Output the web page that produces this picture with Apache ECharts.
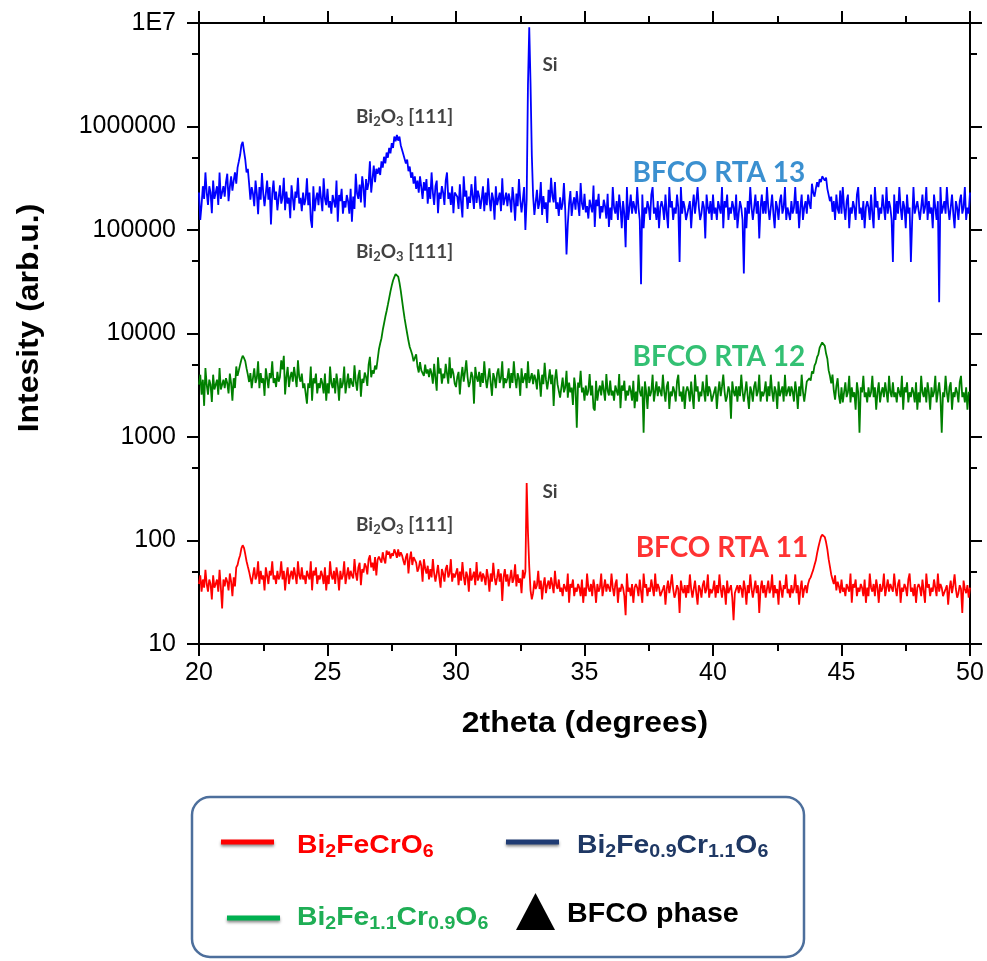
<!DOCTYPE html>
<html>
<head>
<meta charset="utf-8">
<script src="https://cdn.jsdelivr.net/npm/echarts@6/dist/echarts.min.js"></script>
<style>html,body{margin:0;padding:0;background:#fff;}#chart{width:987px;height:961px;}</style>
</head>
<body>
<div id="chart"></div>
<script>
// 2theta sampling: 20.00 .. 50.00 in 0.05 degree steps
const angleStart = 20.0;
const angleStep = 0.05;
const xTicks = [20, 25, 30, 35, 40, 45, 50];
const yTickLabels = ['10', '100', '1000', '10000', '100000', '1000000', '1E7'];

// BFCO RTA 13 (blue), one row per degree
const rta13 = [
2.3e5,1.25e5,1.75e5,2.65e5,2.0e5,3.6e5,2.3e5,1.75e5,2.65e5,2.3e5,1.45e5,3.0e5,2.0e5,2.3e5,2.65e5,1.75e5,3.6e5,2.0e5,2.3e5,2.65e5,
2.1e5,2.9e5,3.5e5,1.9e5,2.6e5,3.3e5,2.4e5,3.0e5,3.6e5,2.8e5,4.0e5,4.6e5,5.3e5,6.6e5,7.1e5,5.8e5,4.8e5,3.6e5,3.9e5,2.8e5,
1.96e5,2.6e5,2.25e5,1.7e5,3.0e5,2.25e5,1.42e5,2.6e5,1.96e5,3.55e5,2.25e5,1.7e5,2.25e5,3.0e5,1.96e5,2.6e5,1.13e5,2.25e5,3.0e5,1.96e5,
2.35e5,1.55e5,2.05e5,2.7e5,1.8e5,2.05e5,3.2e5,1.55e5,2.35e5,1.8e5,2.05e5,1.3e5,2.7e5,2.05e5,1.55e5,2.35e5,2.05e5,3.2e5,1.8e5,2.05e5,
1.52e5,2.3e5,1.74e5,2.0e5,3.16e5,1.74e5,2.3e5,1.26e5,1.05e5,2.64e5,1.52e5,2.0e5,2.3e5,1.74e5,2.64e5,2.0e5,1.52e5,3.16e5,2.0e5,1.74e5,
2.5e5,1.65e5,1.9e5,1.44e5,2.18e5,1.9e5,1.65e5,3.0e5,1.2e5,2.18e5,1.9e5,2.5e5,1.44e5,1.9e5,1.65e5,2.18e5,1.9e5,1.44e5,2.5e5,1.2e5,
2.1e5,1.6e5,3.5e5,2.25e5,2.0e5,2.75e5,1.85e5,3.3e5,2.6e5,1.65e5,3.1e5,2.45e5,2.85e5,4.6e5,2.3e5,3.1e5,4.2e5,2.9e5,3.9e5,3.5e5,
4.0e5,3.4e5,4.6e5,4.0e5,5.1e5,4.4e5,5.6e5,5.0e5,6.2e5,5.5e5,6.9e5,6.2e5,8.0e5,7.2e5,8.3e5,7.3e5,8.0e5,6.6e5,6.5e5,5.4e5,
5.6e5,4.4e5,4.8e5,3.7e5,4.1e5,3.2e5,3.6e5,2.8e5,3.3e5,2.5e5,3.0e5,2.3e5,3.3e5,2.6e5,2.0e5,2.9e5,2.4e5,3.1e5,1.8e5,2.6e5,
2.0e5,3.6e5,2.3e5,1.75e5,2.65e5,3.0e5,1.45e5,2.3e5,2.0e5,2.65e5,2.3e5,1.75e5,3.0e5,3.6e5,2.0e5,2.3e5,1.75e5,2.65e5,1.45e5,2.3e5,
2.4e5,2.1e5,1.6e5,2.77e5,1.83e5,1.32e5,3.3e5,2.1e5,2.4e5,1.6e5,2.1e5,1.83e5,2.77e5,2.1e5,1.6e5,3.3e5,1.83e5,2.4e5,2.1e5,1.6e5,
2.0e5,2.64e5,1.52e5,2.3e5,1.74e5,3.16e5,2.0e5,1.52e5,2.3e5,2.0e5,1.26e5,2.64e5,1.74e5,2.0e5,2.3e5,1.52e5,3.16e5,1.74e5,2.0e5,2.3e5,
1.7e5,2.25e5,1.95e5,1.48e5,2.6e5,1.95e5,1.23e5,2.25e5,1.7e5,3.1e5,1.95e5,1.48e5,1.95e5,2.6e5,1.0e5,2.0e5,2.5e6,9.1e6,2.6e6,5.3e5,
2.13e5,1.4e5,1.85e5,2.45e5,1.6e5,1.85e5,2.9e5,1.4e5,2.13e5,1.6e5,1.85e5,1.17e5,2.45e5,1.85e5,3.2e5,2.13e5,1.85e5,2.9e5,1.6e5,1.85e5,
1.37e5,2.07e5,1.57e5,1.8e5,2.84e5,1.57e5,5.8e4,1.13e5,1.8e5,2.38e5,1.37e5,1.8e5,2.07e5,1.57e5,2.38e5,1.8e5,1.37e5,2.84e5,1.8e5,1.57e5,
2.24e5,1.48e5,1.7e5,1.29e5,1.96e5,1.7e5,1.48e5,2.69e5,1.07e5,1.96e5,1.7e5,2.24e5,1.29e5,1.7e5,1.48e5,1.96e5,1.7e5,1.29e5,2.24e5,1.07e5,
1.65e5,1.25e5,2.6e5,1.65e5,1.44e5,1.9e5,1.25e5,2.2e5,1.65e5,1.04e5,1.9e5,1.44e5,6.8e4,2.6e5,1.25e5,1.65e5,2.2e5,1.44e5,1.9e5,1.65e5,
1.44e5,2.6e5,1.65e5,1.25e5,3.0e4,2.2e5,1.04e5,1.65e5,1.44e5,1.9e5,1.65e5,1.25e5,2.2e5,2.6e5,1.44e5,1.65e5,1.25e5,1.9e5,1.04e5,1.65e5,
1.9e5,1.65e5,1.25e5,2.2e5,1.44e5,1.04e5,2.6e5,1.65e5,1.9e5,1.25e5,1.65e5,1.44e5,2.2e5,1.65e5,4.9e4,2.6e5,1.44e5,1.9e5,1.65e5,1.25e5,
1.25e5,1.65e5,1.9e5,1.04e5,1.65e5,2.2e5,1.44e5,1.9e5,2.6e5,1.65e5,1.25e5,1.44e5,1.9e5,1.65e5,8.3e4,2.2e5,1.65e5,1.44e5,1.9e5,1.25e5,
2.2e5,1.44e5,1.65e5,1.25e5,1.9e5,1.65e5,1.44e5,2.6e5,1.04e5,1.9e5,1.65e5,2.2e5,1.25e5,1.65e5,1.44e5,1.9e5,1.65e5,1.25e5,2.2e5,1.04e5,
1.44e5,1.9e5,1.65e5,1.25e5,3.8e4,1.65e5,1.04e5,1.9e5,1.44e5,2.6e5,1.65e5,1.25e5,1.65e5,2.2e5,1.44e5,1.9e5,8.3e4,1.65e5,2.2e5,1.44e5,
1.9e5,1.44e5,2.6e5,1.65e5,1.25e5,1.65e5,2.2e5,1.44e5,1.04e5,1.9e5,1.65e5,1.25e5,1.9e5,2.2e5,1.44e5,1.65e5,2.6e5,1.25e5,1.65e5,1.44e5,
1.25e5,1.9e5,1.44e5,1.65e5,2.6e5,1.44e5,1.9e5,1.04e5,1.65e5,2.2e5,1.25e5,1.65e5,1.9e5,1.44e5,2.2e5,1.8e5,1.6e5,2.8e5,2.3e5,2.1e5,
2.5e5,2.9e5,2.6e5,3.1e5,2.9e5,3.3e5,3.4e5,3.0e5,3.2e5,2.5e5,2.6e5,1.9e5,2.1e5,1.5e5,1.9e5,1.25e5,2.2e5,1.6e5,1.44e5,2.4e5,
1.44e5,2.6e5,1.65e5,1.25e5,1.9e5,2.2e5,1.04e5,1.65e5,1.44e5,1.9e5,1.65e5,1.25e5,2.2e5,2.6e5,1.44e5,1.65e5,1.25e5,1.9e5,1.04e5,1.65e5,
1.9e5,1.65e5,1.25e5,2.2e5,1.44e5,1.04e5,2.6e5,1.65e5,1.9e5,1.25e5,1.65e5,1.44e5,2.2e5,1.65e5,1.25e5,2.6e5,1.44e5,1.9e5,1.65e5,1.25e5,
4.9e4,2.2e5,1.25e5,1.9e5,1.44e5,2.6e5,1.65e5,1.25e5,1.9e5,1.65e5,1.04e5,2.2e5,1.44e5,1.65e5,4.9e4,1.25e5,2.6e5,1.44e5,1.65e5,1.9e5,
1.9e5,1.25e5,1.65e5,2.2e5,1.44e5,1.65e5,2.6e5,1.25e5,1.9e5,1.44e5,1.65e5,1.04e5,2.2e5,1.65e5,1.25e5,1.9e5,2.0e4,2.6e5,1.44e5,1.65e5,
1.9e5,1.44e5,2.6e5,1.65e5,1.25e5,1.65e5,2.2e5,1.44e5,1.04e5,1.9e5,1.65e5,1.25e5,1.9e5,2.2e5,1.44e5,1.65e5,2.6e5,1.25e5,1.65e5,1.44e5,
2.3e5
];

// BFCO RTA 12 (green)
const rta12 = [
3200,4000,2560,3580,2000,4640,3200,2560,3580,3200,2180,4000,2880,3200,3580,2560,4640,2880,3200,3580,
2970,3700,3300,2640,4100,3300,2240,3700,2970,4800,3900,4400,5000,5600,6100,5800,5400,4600,4000,3400,
4140,2960,3700,4600,3330,3700,5400,2960,4140,3330,3700,2500,4600,3700,2960,4140,3700,5400,3330,3700,
3040,4260,3420,3800,5500,4500,6100,2580,3800,4750,3040,3800,4260,3420,4750,3800,3040,5500,3800,3420,
4100,2970,3300,2640,2100,3300,2970,4800,2240,3700,3300,4100,2640,3300,2970,3700,3300,2640,4100,2240,
3300,2640,4800,3300,2970,3700,2640,4100,3300,2240,3700,2970,3300,4800,2640,3300,4100,2970,3700,3300,
3060,4930,3450,2800,3920,4440,2450,3650,3330,4200,3800,3120,5000,5950,3780,4400,4100,4900,4500,5600,
7000,8000,9000,10800,12500,14500,16500,19000,22000,25500,29000,32500,35000,37500,39000,35500,31000,26000,21000,17000,
14000,11800,10000,8500,7400,6800,6200,5400,5500,6300,4800,4200,5300,4400,4600,3900,5000,4100,4500,3800,
4600,4100,3280,5100,3700,2800,5900,4100,4600,3280,4100,3700,5100,4100,3280,5900,3700,4600,4100,3280,
3040,3800,4260,2580,3800,4750,3420,4260,5500,3800,3040,3420,4260,3800,2100,4750,3800,3420,4260,3040,
4140,3330,5400,3700,2960,3700,4600,3330,2500,4140,3700,2960,4140,4600,3330,3700,5400,2960,3700,3330,
3700,4600,2960,4140,3330,5400,3700,2960,4140,3700,2500,4600,3330,3700,4140,2960,5400,3330,3700,4140,
3240,4000,3600,2880,4500,3600,2450,4000,3240,5200,3600,2880,3600,4500,3240,4000,2000,3600,4500,3240,
3360,2400,3000,3750,2700,3000,4350,2400,3360,2700,3000,2040,3750,3000,1230,3360,3000,4350,2700,3000,
2240,3140,2520,2800,4060,2520,3140,1900,1800,3500,2240,2800,3140,2520,3500,2800,2240,4060,2800,2520,
3500,2520,2800,2240,3140,2800,2520,4060,1900,3140,2800,3500,2240,2800,2520,3140,2800,2240,3500,1900,
2750,2200,4000,2750,2480,3080,1100,3440,2750,1870,3080,2480,2750,4000,2200,2750,3440,2480,3080,2750,
2480,4000,2750,2200,3080,3440,1870,2750,2480,3080,2750,2200,3440,4000,2480,2750,2200,3080,1870,2750,
3080,2750,2200,3440,2480,1870,4000,2750,3080,2200,2750,2480,3440,2750,2200,4000,2480,3080,2750,2200,
2200,2750,3080,1870,2750,3440,2480,3080,4000,2750,2200,2480,3080,2750,1500,3440,2750,2480,3080,2200,
3080,2480,4000,2750,2200,2750,3440,2480,1870,3080,2750,2200,3080,3440,2480,2750,4000,2200,2750,2480,
2750,3440,2200,3080,2480,4000,2750,2200,3080,2750,1870,3440,2480,2750,3080,2200,4000,2480,2750,3080,
2480,3080,2750,2200,3440,2750,1870,3080,2480,4000,2750,2200,2750,3440,3300,3700,3500,4300,4100,4900,
5200,5900,6300,7300,7600,8200,8500,7600,6400,5700,4400,3900,3300,4000,2800,2300,3100,3700,2500,2100,
3020,2160,2700,3380,2430,2700,3900,2160,3020,2430,2700,1840,3380,2700,1100,3020,2700,3900,2430,2700,
2160,3020,2430,2700,3900,2430,3020,1840,2700,3380,2160,2700,3020,2430,3380,2700,2160,3900,2700,2430,
3380,2430,2700,2160,3020,2700,2430,3900,1840,3020,2700,3380,2160,2700,2430,3020,2700,2160,3380,1840,
2700,2160,3900,2700,2430,3020,2160,3380,2700,1840,3020,2430,2700,3900,2160,2700,3380,2430,1100,2700,
2430,3900,2700,2160,3020,3380,1840,2700,2430,3020,2700,2160,3380,3900,2430,2700,2160,3020,1840,2700,
2700
];

// BFCO RTA 11 (red)
const rta11 = [
38,46,32,42,35,52,38,32,42,38,27,46,35,38,42,32,52,35,22,42,
36,44,40,33,48,40,29,44,36,55,58,66,72,84,90,85,74,63,56,50,
51,38,46,55,42,46,63,38,51,42,46,33,55,46,38,51,46,63,42,46,
38,51,42,46,63,42,51,33,46,55,38,46,51,42,55,46,38,63,46,42,
55,42,46,38,51,46,42,63,33,51,46,55,38,46,42,51,46,38,55,33,
46,38,63,46,42,51,38,55,46,33,51,42,46,63,38,46,55,42,51,46,
43,66,48,41,55,61,37,53,49,60,56,47,66,72,55,61,51,69,46,65,
70,67,61,77,66,60,80,73,78,67,75,71,82,76,68,82,70,77,72,64,
58,69,75,48,66,78,58,69,72,61,50,54,64,57,40,66,54,48,57,42,
53,44,66,48,40,48,58,44,35,53,48,40,53,58,44,48,66,40,48,44,
45,54,37,50,41,62,45,37,50,45,32,54,41,45,50,37,62,41,45,50,
40,48,44,37,53,44,32,48,40,61,44,37,44,53,40,48,26,44,53,40,
47,36,43,52,39,43,59,36,47,39,43,31,52,43,50,360,120,56,33,27,
31,41,34,37,51,34,41,27,37,44,31,37,41,34,44,37,31,51,37,34,
42,32,35,29,38,35,32,48,25,38,35,42,29,35,32,38,35,29,42,25,
35,29,48,35,32,38,29,42,35,25,38,32,35,48,29,35,42,32,38,35,
32,48,35,29,38,42,25,35,32,38,35,29,19,48,32,35,29,38,25,35,
38,35,29,42,32,25,48,35,38,29,35,32,42,35,29,48,32,38,35,29,
28,34,37,24,34,41,31,37,47,34,28,31,37,34,20,41,34,31,37,28,
37,31,47,34,28,34,41,31,24,37,34,28,37,41,31,34,47,28,34,31,
34,41,28,37,31,47,34,28,37,34,24,41,31,34,37,28,17,31,34,37,
31,37,34,28,41,34,24,37,31,47,34,28,34,41,31,37,20,34,41,31,
37,28,34,41,31,34,47,28,37,31,34,24,41,34,28,37,34,47,31,34,
28,37,31,34,47,31,37,24,34,41,28,34,37,31,38,42,44,48,52,58,
64,75,86,97,108,114,118,108,96,82,66,56,47,42,38,46,33,40,36,31,
42,32,35,29,38,35,32,48,25,38,35,42,29,35,32,38,35,29,42,25,
35,29,48,35,32,38,29,42,35,25,38,32,35,48,29,35,42,32,38,35,
32,48,35,29,38,42,25,35,32,38,35,29,42,48,32,35,29,38,25,35,
38,35,29,42,32,25,48,35,38,29,35,32,42,35,29,48,32,38,35,29,
28,34,37,24,34,41,31,37,47,34,28,31,37,34,20,41,34,31,37,28,
35
];

// Peak / sample annotations (data coordinates)
const annotations = [
  {text: 'Bi{s|2}O{s|3} [111]', x: 28.0, y: 1.23e6, kind: 'peak'},
  {text: 'Bi{s|2}O{s|3} [111]', x: 28.0, y: 6.1e4, kind: 'peak'},
  {text: 'Bi{s|2}O{s|3} [111]', x: 28.0, y: 141, kind: 'peak'},
  {text: 'Si', x: 33.66, y: 3.9e6, kind: 'peak'},
  {text: 'Si', x: 33.66, y: 294, kind: 'peak'},
  {text: 'BFCO RTA 13', x: 40.23, y: 3.55e5, kind: 'sample', color: '#0a74c4'},
  {text: 'BFCO RTA 12', x: 40.23, y: 5.9e3, kind: 'sample', color: '#00b050'},
  {text: 'BFCO RTA 11', x: 40.35, y: 85, kind: 'sample', color: '#ff0000'}
];

const minorLogTicks = [50, 500, 5000, 50000, 500000, 5000000];

function pair(arr) {
  return arr.map((v, i) => [+(angleStart + i * angleStep).toFixed(2), v]);
}

const chart = echarts.init(document.getElementById('chart'), null, {renderer: 'canvas'});
const F = '"Liberation Sans", Arial, sans-serif';
const LF = 'Lato, "Open Sans", sans-serif';
const axisLineStyle = {color: '#000', width: 2};

const yMajorBase = {
  type: 'log', logBase: 10, min: 10, max: 1e7, gridIndex: 0,
  axisLine: {show: true, lineStyle: axisLineStyle},
  axisTick: {show: true, inside: false, length: 12, lineStyle: {width: 2, color: '#000'}},
  splitLine: {show: false}
};
const yMinorBase = {
  type: 'value', min: 1, max: 7, gridIndex: 0,
  axisLine: {show: false}, axisLabel: {show: false}, splitLine: {show: false},
  axisTick: {show: true, inside: false, length: 7, lineStyle: {width: 2, color: '#000'},
             customValues: minorLogTicks.map(v => Math.log10(v))}
};

const subStyle = (c) => ({fill: c, font: 'bold 18px ' + F, verticalAlign: 'bottom', lineHeight: 16, padding: [10, 0, 0, 0]});

const option = {
  animation: false,
  backgroundColor: '#fff',
  grid: {left: 199, right: 17, top: 23, bottom: 317, containLabel: false},
  xAxis: [
    {
      type: 'value', min: 20, max: 50, interval: 5, position: 'bottom',
      axisLine: {show: true, onZero: false, lineStyle: axisLineStyle},
      axisTick: {show: true, inside: false, length: 12, lineStyle: {width: 2, color: '#000'}},
      minorTick: {show: true, splitNumber: 2, length: 7, lineStyle: {width: 2, color: '#000'}},
      splitLine: {show: false},
      axisLabel: {color: '#000', fontFamily: F, fontSize: 25, margin: 17,
                  formatter: v => (xTicks.indexOf(v) >= 0 ? String(v) : '')}
    },
    {
      type: 'value', min: 20, max: 50, interval: 5, position: 'top',
      axisLine: {show: true, onZero: false, lineStyle: axisLineStyle},
      axisTick: {show: true, inside: false, length: 12, lineStyle: {width: 2, color: '#000'}},
      minorTick: {show: true, splitNumber: 2, length: 7, lineStyle: {width: 2, color: '#000'}},
      splitLine: {show: false}, axisLabel: {show: false}
    }
  ],
  yAxis: [
    Object.assign({}, yMajorBase, {
      position: 'left',
      axisLabel: {color: '#000', fontFamily: F, fontSize: 25, margin: 23,
                  formatter: v => yTickLabels[Math.round(Math.log10(v)) - 1]}
    }),
    Object.assign({}, yMajorBase, {position: 'right', axisLabel: {show: false}}),
    Object.assign({}, yMinorBase, {position: 'left'}),
    Object.assign({}, yMinorBase, {position: 'right'})
  ],
  series: [
    {name: 'BFCO RTA 13', type: 'line', data: pair(rta13), showSymbol: false, symbol: 'none',
     lineStyle: {color: '#0000ff', width: 1.8}, itemStyle: {color: '#0000ff'}, z: 3},
    {name: 'BFCO RTA 12', type: 'line', data: pair(rta12), showSymbol: false, symbol: 'none',
     lineStyle: {color: '#008000', width: 1.8}, itemStyle: {color: '#008000'}, z: 3},
    {name: 'BFCO RTA 11', type: 'line', data: pair(rta11), showSymbol: false, symbol: 'none',
     lineStyle: {color: '#ff0000', width: 1.8}, itemStyle: {color: '#ff0000'}, z: 3},
    {
      type: 'scatter', symbolSize: 0, silent: true, z: 5,
      data: annotations.map(a => ({
        value: [a.x, a.y],
        label: a.kind === 'peak' ? {
          show: true, position: 'inside', formatter: a.text,
          color: '#111', fontFamily: LF, fontWeight: 'bold', fontSize: 19, lineHeight: 22,
          rich: {s: {fontSize: 13, fontFamily: LF, fontWeight: 'bold', color: '#111', verticalAlign: 'bottom', lineHeight: 13, padding: [8, 0, 0, 0]}}
        } : {
          show: true, position: 'inside', formatter: a.text,
          color: a.color, fontFamily: LF, fontWeight: 'bold', fontSize: 28
        }
      }))
    }
  ],
  graphic: [
    {type: 'text', x: 30, y: 318, rotation: Math.PI / 2, scaleX: 1.1,
     style: {text: 'Intesity (arb.u.)', fill: '#000', font: 'bold 29px ' + F, align: 'center', verticalAlign: 'middle'}},
    {type: 'text', x: 585, y: 724, scaleX: 1.1,
     style: {text: '2theta (degrees)', fill: '#000', font: 'bold 29px ' + F, align: 'center', verticalAlign: 'middle'}},
    {type: 'rect', shape: {x: 192, y: 797, width: 612, height: 160, r: 18},
     style: {fill: '#fff', stroke: '#4d6f9c', lineWidth: 2.5}},
    {type: 'line', shape: {x1: 221, y1: 842, x2: 274, y2: 842},
     style: {stroke: '#ff0000', lineWidth: 5, shadowBlur: 3, shadowOffsetY: 2, shadowColor: 'rgba(0,0,0,0.45)'}},
    {type: 'line', shape: {x1: 506, y1: 842, x2: 559, y2: 842},
     style: {stroke: '#1f3b73', lineWidth: 5, shadowBlur: 3, shadowOffsetY: 2, shadowColor: 'rgba(0,0,0,0.45)'}},
    {type: 'line', shape: {x1: 227, y1: 918, x2: 280, y2: 918},
     style: {stroke: '#00b050', lineWidth: 5, shadowBlur: 3, shadowOffsetY: 2, shadowColor: 'rgba(0,0,0,0.45)'}},
    {type: 'polygon', shape: {points: [[516, 930], [535.5, 893], [555, 930]]}, style: {fill: '#000'}},
    {type: 'text', x: 297, y: 846, scaleX: 1.09,
     style: {text: 'Bi{s|2}FeCrO{s|6}', fill: '#ff0000', font: 'bold 26px ' + F, verticalAlign: 'middle', lineHeight: 30,
             rich: {s: subStyle('#ff0000')}}},
    {type: 'text', x: 577, y: 846, scaleX: 1.09,
     style: {text: 'Bi{s|2}Fe{s|0.9}Cr{s|1.1}O{s|6}', fill: '#1f3864', font: 'bold 26px ' + F, verticalAlign: 'middle', lineHeight: 30,
             rich: {s: subStyle('#1f3864')}}},
    {type: 'text', x: 297, y: 918, scaleX: 1.09,
     style: {text: 'Bi{s|2}Fe{s|1.1}Cr{s|0.9}O{s|6}', fill: '#1fae55', font: 'bold 26px ' + F, verticalAlign: 'middle', lineHeight: 30,
             rich: {s: subStyle('#1fae55')}}},
    {type: 'text', x: 567, y: 915, scaleX: 1.06,
     style: {text: 'BFCO phase', fill: '#000', font: 'bold 27px ' + F, verticalAlign: 'middle'}}
  ]
};
chart.setOption(option);
</script>
</body>
</html>
